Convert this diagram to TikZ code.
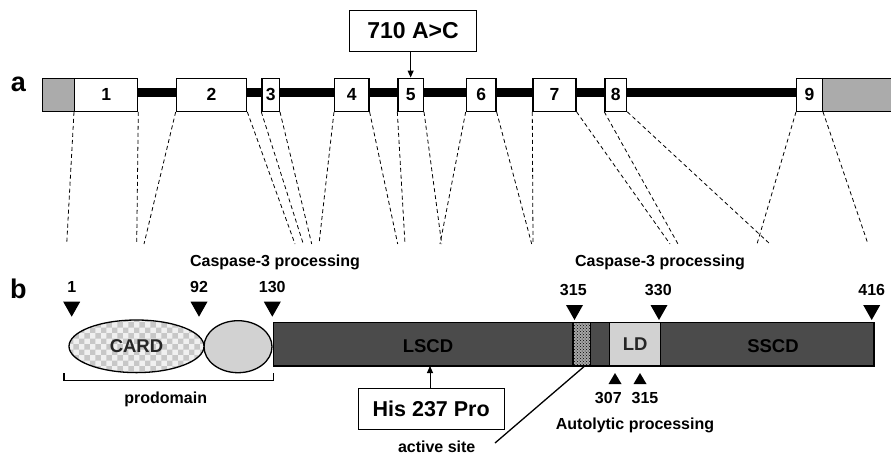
\documentclass[tikz,border=0pt]{standalone}
\usepackage{fontspec}
\setmainfont{Liberation Sans}
\usetikzlibrary{patterns,arrows.meta,shapes.geometric}
\definecolor{utrgray}{HTML}{ABABAB}
\definecolor{bargray}{HTML}{4B4B4B}
\definecolor{ltgray}{HTML}{D2D2D2}
\begin{document}
\begin{tikzpicture}[x=1pt,y=-1pt,
  exon/.style={draw, line width=1.3pt, fill=white, minimum height=33pt, inner sep=0pt, anchor=west,
    font=\fontsize{17.5}{17.5}\selectfont\bfseries},
  utr/.style={exon, fill=utrgray},
  lbl/.style={inner sep=0pt, font=\fontsize{16}{16}\selectfont\bfseries},
  panel/.style={inner sep=0pt, font=\fontsize{27}{27}\selectfont\bfseries},
  dom/.style={inner sep=0pt, font=\fontsize{18.5}{18.5}\selectfont\bfseries, text=black!85},
  mutbox/.style={draw, line width=0.9pt, fill=white, inner sep=0pt},
  conn/.style={dashed, dash pattern=on 4pt off 3pt, line width=0.8pt},
  arr/.style={-{Triangle[length=7pt,width=6pt]}, line width=1pt},
  tridown/.style={fill=black},
]
\useasboundingbox (0,0) rectangle (891,456);

% ---------- panel a ----------
\node[panel] (pa) at (18.5,84) {a};
\coordinate (bbL) at (60,92.5);
\coordinate (bbR) at (810,92.5);
\draw[line width=8.5pt] (bbL) -- (bbR);

\node[utr,  minimum width=32.3pt] (g1) at (41.7,94.7) {};
\node[exon, minimum width=63pt]   (e1) at (74,94.7) {1};
\node[exon, minimum width=70.3pt] (e2) at (175.7,94.7) {2};
\node[exon, minimum width=17.4pt] (e3) at (261.3,94.7) {3};
\node[exon, minimum width=34.3pt] (e4) at (334,94.7) {4};
\node[exon, minimum width=25.4pt] (e5) at (397.3,94.7) {5};
\node[exon, minimum width=29.6pt] (e6) at (465.7,94.7) {6};
\node[exon, minimum width=43pt]   (e7) at (532.3,94.7) {7};
\node[exon, minimum width=21.7pt] (e8) at (604.3,94.7) {8};
\node[exon, minimum width=25.7pt] (e9) at (796,94.7) {9};
\node[utr,  minimum width=80pt]   (g2) at (821.7,94.7) {};

\node[mutbox, minimum width=127.4pt, minimum height=41.7pt,
      font=\fontsize{23}{23}\selectfont\bfseries] (mut) at (413,30.8) {710 A>C};
\draw[arr] (mut.south -| e5.north) -- (e5.north);

% dashed projections
\foreach \n/\x in {d1/66.7, d2/136.7, d3/144, d4/295, d5/303.3, d6/311.7, d7/319, d8/397.7,
                   d9/405, d10/441.7, d11/440, d12/531.7, d13/533, d14/670, d15/678, d16/770,
                   d17/757, d18/868}
  \coordinate (\n) at (\x,244);
\draw[conn] (e1.south west) -- (d1);
\draw[conn] (e1.south east) -- (d2);
\draw[conn] (e2.south west) -- (d3);
\draw[conn] (e2.south east) -- (d4);
\draw[conn] (e3.south west) -- (d5);
\draw[conn] (e3.south east) -- (d6);
\draw[conn] (e4.south west) -- (d7);
\draw[conn] (e4.south east) -- (d8);
\draw[conn] (e5.south west) -- (d9);
\draw[conn] (e5.south east) -- (d10);
\draw[conn] (e6.south west) -- (d11);
\draw[conn] (e6.south east) -- (d12);
\draw[conn] (e7.south west) -- (d13);
\draw[conn] (e7.south east) -- (d14);
\draw[conn] (e8.south west) -- (d15);
\draw[conn] (e8.south east) -- (d16);
\draw[conn] (e9.south west) -- (d17);
\draw[conn] (e9.south east) -- (d18);

% ---------- panel b ----------
\node[panel] (pb) at (18.3,289) {b};
\node[lbl] (casp1) at (275,262) {Caspase-3 processing};
\node[lbl] (casp2) at (660,262) {Caspase-3 processing};

\node[lbl] (n1)   at (71.7,287)  {1};
\node[lbl] (n92)  at (199,287)   {92};
\node[lbl] (n130) at (272.3,287) {130};
\node[lbl] (n315) at (573.3,290) {315};
\node[lbl] (n330) at (658.3,290) {330};
\node[lbl] (n416) at (871.7,290) {416};

\foreach \x in {71.7,199,272.3}
  \fill[tridown] (\x-8.5,301.7) -- (\x+8.5,301.7) -- (\x,316.7) -- cycle;
\foreach \x in {574.5,659,871.7}
  \fill[tridown] (\x-8.5,305) -- (\x+8.5,305) -- (\x,320) -- cycle;

% domains
\node[draw, line width=1.3pt, fill=bargray, minimum width=600.6pt, minimum height=43.3pt,
      inner sep=0pt, anchor=west] (bar) at (272.7,344.35) {};
\node[ellipse, draw, line width=1.3pt, fill=ltgray,
      minimum width=68pt, minimum height=52pt, inner sep=0pt] (circ) at (238,346.7) {};
\node[ellipse, draw, line width=1.3pt, preaction={fill=black!6}, pattern=checkerboard,
      pattern color=black!22, minimum width=135pt, minimum height=52.6pt, inner sep=0pt] (card) at (136.5,346.3) {};
\node[dom] (cardl) at (card.center) {CARD};

\node[draw, line width=1.3pt, preaction={fill=black!35}, pattern=crosshatch dots, pattern color=black,
      minimum width=17.4pt, minimum height=43.3pt, inner sep=0pt, anchor=west] (as) at (572.3,344.35) {};
\node[draw, line width=1.3pt, fill=ltgray, minimum width=51pt, minimum height=43.3pt,
      inner sep=0pt, anchor=west] (ld) at (609,344.35) {};
\node[dom] (ldl) at (ld.center) {LD};
\node[dom, text=black] (lscd) at (428,346) {LSCD};
\node[dom, text=black] (sscd) at (773,346) {SSCD};

% up triangles
\foreach \x in {615,640}
  \fill (\x-6.5,384) -- (\x+6.5,384) -- (\x,373) -- cycle;
\node[lbl] (n307b) at (608.3,398.3) {307};
\node[lbl] (n315b) at (645,398.3) {315};
\node[lbl] (auto) at (635,425) {Autolytic processing};

% prodomain bracket
\coordinate (brL) at (64,373.3);
\coordinate (brR) at (273.3,373.3);
\draw[line width=1.1pt] (brL) -- ++(0,7.4) -| (brR);
\node[lbl] (prod) at (165.7,399) {prodomain};

% His 237 Pro
\node[mutbox, minimum width=145.7pt, minimum height=40.7pt,
      font=\fontsize{21.5}{21.5}\selectfont\bfseries] (his) at (431.2,408.7) {His 237 Pro};
\draw[arr] (his.north -| 430,0) -- (430,366);

% active site
\node[lbl] (act) at (436.7,446.5) {active site};
\coordinate (actend) at (495,443);
\draw[line width=1.3pt] ([xshift=2.3pt]as.south) -- (actend);
\end{tikzpicture}
\end{document}
